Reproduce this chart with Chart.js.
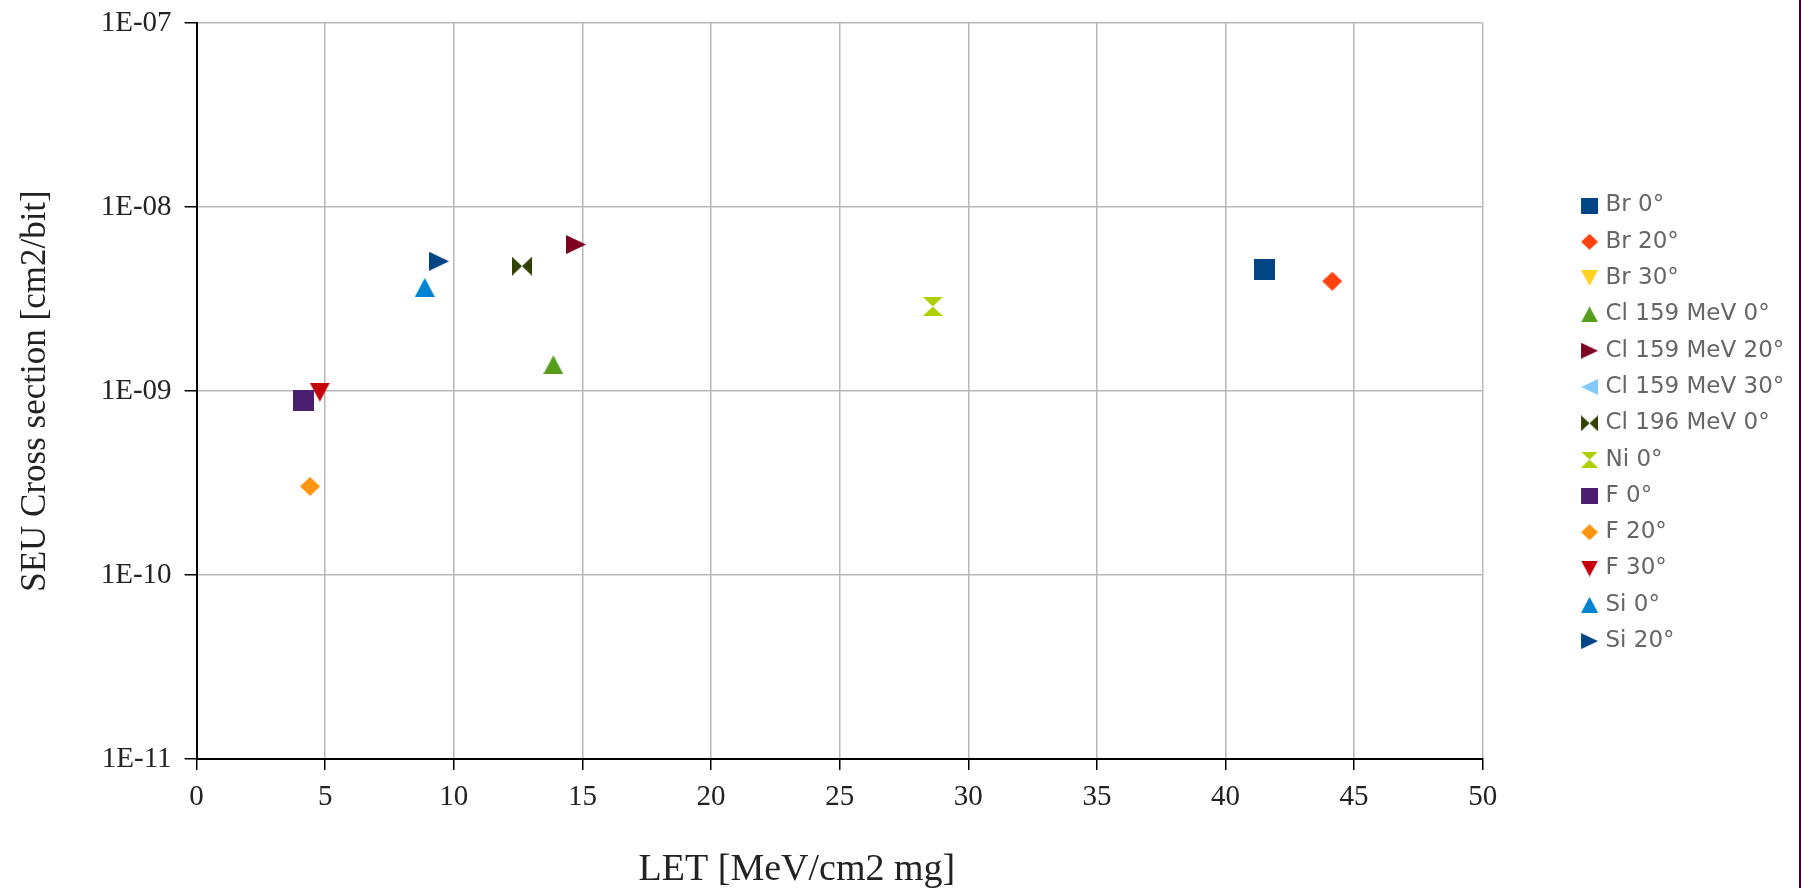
<!DOCTYPE html>
<html>
<head>
<meta charset="utf-8">
<script src="https://cdn.jsdelivr.net/npm/chart.js@4.4.1/dist/chart.umd.min.js"></script>
<style>
  html, body { margin: 0; padding: 0; background: #fff; }
  #wrap { width: 1799px; height: 888px; border-right: 2px solid #3f0034; }
</style>
</head>
<body>
<div id="wrap"><canvas id="chart" width="1799" height="888"></canvas></div>
<script>
// SEU cross section vs LET, one point per ion / angle.
const seriesNames = ["Br 0°", "Br 20°", "Br 30°", "Cl 159 MeV 0°", "Cl 159 MeV 20°", "Cl 159 MeV 30°",
  "Cl 196 MeV 0°", "Ni 0°", "F 0°", "F 20°", "F 30°", "Si 0°", "Si 20°"];
const letValues = [41.5, 44.15, null, 13.87, 14.75, null, 12.65, 28.62, 4.14, 4.41, 4.79, 8.87, 9.43];
const crossSections = [4.6e-9, 3.95e-9, null, 1.39e-9, 6.25e-9, null, 4.77e-9, 2.88e-9, 8.87e-10, 3.03e-10, 9.85e-10, 3.66e-9, 5.07e-9];

const yTickValues = [1e-11, 1e-10, 1e-9, 1e-8, 1e-7];
const yTickLabels = ["1E-11", "1E-10", "1E-09", "1E-08", "1E-07"];

// LibreOffice default palette + symbol order
const colors = ["#004586", "#ff420e", "#ffd320", "#579d1c", "#7e0021", "#83caff",
  "#314004", "#aecf00", "#4b1f6f", "#ff950e", "#c5000b", "#0084d1", "#004586"];
const shapes = ["square", "diamond", "down", "up", "right", "left",
  "bowtie", "hourglass", "square", "diamond", "down", "up", "right"];

function marker(shape, color, w, h, boxW) {
  const c = document.createElement("canvas");
  c.width = boxW || w; c.height = h;
  const g = c.getContext("2d");
  const x = c.width - w;   // legend: symbol sits at the right end of the box
  g.fillStyle = color;
  g.beginPath();
  if (shape === "square") g.rect(x, 0, w, h);
  else if (shape === "diamond") { g.moveTo(x + w / 2, 0); g.lineTo(x + w, h / 2); g.lineTo(x + w / 2, h); g.lineTo(x, h / 2); }
  else if (shape === "down") { g.moveTo(x, 0); g.lineTo(x + w, 0); g.lineTo(x + w / 2, h); }
  else if (shape === "up") { g.moveTo(x + w / 2, 0); g.lineTo(x + w, h); g.lineTo(x, h); }
  else if (shape === "right") { g.moveTo(x, 0); g.lineTo(x + w, h / 2); g.lineTo(x, h); }
  else if (shape === "left") { g.moveTo(x + w, 0); g.lineTo(x, h / 2); g.lineTo(x + w, h); }
  else if (shape === "bowtie") {
    g.moveTo(x, 0); g.lineTo(x + w / 2, h / 2); g.lineTo(x, h); g.closePath();
    g.moveTo(x + w, 0); g.lineTo(x + w / 2, h / 2); g.lineTo(x + w, h);
  } else if (shape === "hourglass") {
    g.moveTo(x, 0); g.lineTo(x + w, 0); g.lineTo(x + w / 2, h / 2); g.closePath();
    g.moveTo(x, h); g.lineTo(x + w, h); g.lineTo(x + w / 2, h / 2);
  }
  g.closePath();
  g.fill();
  return c;
}

const LEG_BOX = 98;
// image is 8px wider than the legend box, so the symbol can sit close to the text
const legendMarkers = shapes.map((s, i) => marker(s, colors[i], 17, 16, LEG_BOX + 8));

const datasets = seriesNames.map((name, i) => ({
  label: name,
  data: letValues[i] == null ? [] : [{ x: letValues[i], y: crossSections[i] }],
  backgroundColor: colors[i],
  borderColor: colors[i],
  pointStyle: marker(shapes[i], colors[i], shapes[i] === "square" ? 21 : 20, shapes[i] === "square" ? 21 : 19),
  pointRadius: 10,
}));

const serif = "'Liberation Serif', 'Times New Roman', serif";

new Chart(document.getElementById("chart"), {
  type: "scatter",
  data: { datasets },
  options: {
    responsive: false,
    animation: false,
    layout: { padding: { top: 23, right: 4.7, bottom: 0, left: 0 } },
    plugins: {
      tooltip: { enabled: false },
      legend: {
        position: "right",
        align: "start",
        title: { display: true, text: "", font: { size: 22 }, padding: { top: 0, bottom: 131.3 } },
        labels: {
          usePointStyle: true,
          pointStyleWidth: LEG_BOX,
          padding: 13.3,
          color: "#262626",
          font: { family: "'DejaVu Sans', sans-serif", size: 23 },
          generateLabels: chart => chart.data.datasets.map((ds, i) => ({
            text: ds.label, fillStyle: ds.backgroundColor, strokeStyle: ds.backgroundColor,
            lineWidth: 0, pointStyle: legendMarkers[i], hidden: false, datasetIndex: i,
          })),
        },
      },
    },
    scales: {
      x: {
        type: "linear", min: 0, max: 50,
        afterFit: s => { s.height = 129; s.paddingLeft = 0; s.paddingRight = 0; },
        ticks: { stepSize: 5, padding: 10, color: "#222", font: { family: serif, size: 29 } },
        grid: { color: "#b8b8b8", lineWidth: 1.5, tickColor: "#000", tickLength: 11 },
        border: { color: "#000", width: 2 },
        title: { display: true, text: "LET [MeV/cm2 mg]         ", color: "#222",
          font: { family: serif, size: 38 }, padding: { top: 0, bottom: -5 } },
      },
      y: {
        type: "logarithmic", min: 1e-11, max: 1e-7,
        afterFit: s => { s.width = 196.6; s.paddingTop = 0; s.paddingBottom = 0; },
        afterBuildTicks: s => { s.ticks = yTickValues.map(v => ({ value: v, major: true })); },
        ticks: { autoSkip: false, padding: 13, color: "#222", font: { family: serif, size: 29 },
          callback: (v, i) => yTickLabels[i] },
        grid: { color: "#b8b8b8", lineWidth: 1.5, tickColor: "#000", tickLength: 12 },
        border: { color: "#000", width: 2 },
        title: { display: true, text: "SEU Cross section [cm2/bit]", color: "#222",
          font: { family: serif, size: 35 }, padding: { top: 15, bottom: 0 } },
      },
    },
  },
});
</script>
</body>
</html>
